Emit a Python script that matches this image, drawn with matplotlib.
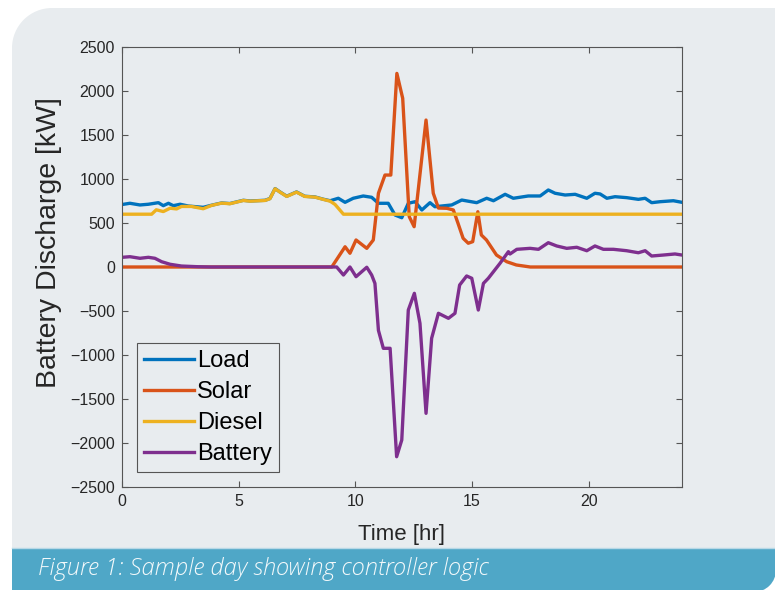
import matplotlib
matplotlib.use("Agg")
import matplotlib.pyplot as plt
from matplotlib.patches import Rectangle, Ellipse

# ---------------- data ----------------
t_load = [0, 0.34, 0.77, 1.13, 1.56, 1.77, 1.99, 2.2, 2.49, 2.84, 3.48, 3.84, 4.27, 4.62,
          5.2, 5.49, 6.13, 6.34, 6.56, 6.77, 7.06, 7.48, 7.83, 8.27, 8.63, 8.92, 9.27,
          9.56, 9.91, 10.34, 10.7, 10.99, 11.41, 11.7, 11.99, 12.27, 12.56, 12.85, 13.2,
          13.41, 14.13, 14.56, 15.2, 15.63, 15.92, 16.42, 16.77, 17.41, 17.92, 18.27,
          18.56, 18.99, 19.42, 19.92, 20.27, 20.49, 20.78, 21.13, 21.63, 22.13, 22.42,
          22.7, 23.06, 23.63, 24]
load = [710, 724, 705, 713, 731, 697, 724, 697, 713, 693, 678, 702, 728, 721,
        758, 750, 758, 778, 891, 853, 804, 853, 804, 796, 770, 753, 781,
        735, 781, 807, 792, 724, 724, 591, 560, 724, 742, 648, 731,
        685, 705, 761, 731, 781, 753, 826, 781, 807, 807, 875,
        838, 818, 826, 781, 838, 830, 781, 799, 788, 769, 781,
        731, 742, 753, 735]

t_solar = [0, 8.99, 9.56, 9.77, 10.03, 10.49, 10.77, 10.99, 11.27, 11.52, 11.78, 12.03,
           12.31, 12.52, 13.03, 13.34, 13.56, 13.92, 14.2, 14.4, 14.62, 14.84, 15.03,
           15.25, 15.4, 15.62, 16.05, 16.49, 16.9, 17.5, 24]
solar = [0, 0, 230, 156, 307, 212, 307, 838, 1045, 1045, 2200, 1917,
         572, 458, 1670, 838, 670, 667, 648, 497, 326, 270, 288,
         628, 364, 307, 136, 60, 23, 0, 0]

t_diesel = [0, 1.27, 1.47, 1.77, 2.06, 2.34, 2.55, 2.98, 3.48, 3.84, 4.27, 4.62, 5.2,
            5.49, 6.13, 6.34, 6.56, 6.77, 7.06, 7.48, 7.83, 8.27, 8.63, 8.92, 9.13,
            9.49, 24]
diesel = [600, 600, 650, 630, 668, 660, 688, 688, 662, 700, 726, 719, 756,
          748, 756, 776, 889, 851, 802, 851, 802, 794, 768, 748, 711,
          600, 600]

t_batt = [0, 0.34, 0.77, 1.13, 1.41, 1.7, 2.06, 2.55, 3.27, 3.8, 9.2, 9.49, 9.77, 10.03,
          10.49, 10.7, 10.84, 10.99, 11.2, 11.49, 11.77, 11.99, 12.27, 12.53, 12.77,
          13.03, 13.27, 13.56, 13.99, 14.27, 14.47, 14.77, 14.99, 15.27, 15.49, 15.7,
          16.2, 16.56, 16.63, 16.92, 17.49, 17.85, 18.27, 18.63, 19.06, 19.49, 19.92,
          20.27, 20.63, 21.06, 21.63, 22.13, 22.42, 22.7, 23.2, 23.7, 24]
battery = [110, 117, 99, 110, 99, 60, 31, 11, 3, 0, 0, -91, 0, -110,
           -3, -91, -186, -720, -924, -924, -2156, -1966, -489, -299, -640,
           -1663, -810, -526, -583, -526, -205, -102, -128, -489, -186, -128,
           42, 174, 148, 201, 212, 201, 276, 239, 212, 224, 185,
           239, 201, 201, 185, 162, 185, 125, 136, 148, 136]

series_names = ["Load", "Solar", "Diesel", "Battery"]
series_colors = ["#0072BD", "#D95319", "#EDB120", "#7E2F8E"]
xticks = [0, 5, 10, 15, 20]
yticks = list(range(-2500, 2501, 500))
xlabel = "Time [hr]"
ylabel = "Battery Discharge [kW]"
caption = "Figure 1: Sample day showing controller logic"

# ---------------- figure ----------------
W, H = 775, 590
fig = plt.figure(figsize=(W / 100, H / 100), dpi=100)
fig.patch.set_facecolor("white")

panel = "#e8ecef"
bar = "#4fa7c7"

def add_rect(x0, y0, x1, y1, color):
    fig.patches.append(Rectangle((x0 / W, 1 - y1 / H), (x1 - x0) / W, (y1 - y0) / H,
                                 transform=fig.transFigure, facecolor=color,
                                 edgecolor="none", zorder=-10))

# gray panel with rounded top-left corner
r = 40
add_rect(12 + r, 8, W + 5, 548, panel)
add_rect(12, 8 + r, W + 5, 548, panel)
fig.patches.append(Ellipse(((12 + r) / W, 1 - (8 + r) / H), 2 * r / W, 2 * r / H,
                           transform=fig.transFigure, facecolor=panel,
                           edgecolor="none", zorder=-10))
# caption bar with rounded bottom-right corner
r2 = 22
add_rect(12, 548, 776 - r2, 592, bar)
add_rect(12, 548, 776, 592 - r2, bar)
fig.patches.append(Ellipse(((776 - r2) / W, 1 - (592 - r2) / H), 2 * r2 / W, 2 * r2 / H,
                           transform=fig.transFigure, facecolor=bar,
                           edgecolor="none", zorder=-10))
fig.lines.append(plt.Line2D([12 / W, 1], [1 - 548 / H, 1 - 548 / H],
                            transform=fig.transFigure, color="#b8d8e6", lw=1.0, zorder=-5))

fig.text(38 / W, 1 - 569 / H, caption, family=["Open Sans", "DejaVu Sans"],
         style="italic", weight="light", fontsize=17, color="#f3f9fb",
         va="center", ha="left")

# ---------------- axes ----------------
ax_l, ax_r, ax_t, ax_b = 122, 682, 47, 487
ax = fig.add_axes([ax_l / W, 1 - ax_b / H, (ax_r - ax_l) / W, (ax_b - ax_t) / H])
ax.set_zorder(5)
ax.set_facecolor("none")

font = ["Liberation Sans", "DejaVu Sans"]
lw = 2.4
ax.plot(t_load, load, color=series_colors[0], lw=lw, label=series_names[0])
ax.plot(t_solar, solar, color=series_colors[1], lw=lw, label=series_names[1])
ax.plot(t_diesel, diesel, color=series_colors[2], lw=lw, label=series_names[2])
ax.plot(t_batt, battery, color=series_colors[3], lw=lw, label=series_names[3])

ax.set_xlim(0, 24)
ax.set_ylim(-2500, 2500)
ax.set_xticks(xticks)
ax.set_yticks(yticks)
ax.tick_params(direction="in", length=4, width=0.8, colors="#555555",
               labelcolor="#262626", labelsize=11.5, top=True, right=True, pad=5)
for lab in ax.get_xticklabels() + ax.get_yticklabels():
    lab.set_family(font)
for s in ax.spines.values():
    s.set_color("#555555")
    s.set_linewidth(0.8)

ax.set_xlabel(xlabel, family=font, fontsize=16, color="#262626", labelpad=11)
ax.set_ylabel(ylabel, family=font, fontsize=20.5, color="#262626")
ax.yaxis.set_label_coords((62 - ax_l) / (ax_r - ax_l), (ax_b - 243) / (ax_b - ax_t))

leg = ax.legend(loc="lower left", bbox_to_anchor=(0.027, 0.034), borderaxespad=0,
                prop={"family": font, "size": 17}, fancybox=False, frameon=True,
                handlelength=2.1, handletextpad=0.15, labelspacing=0.38,
                borderpad=0.3)
leg.get_frame().set_edgecolor("#555555")
leg.get_frame().set_facecolor(panel)
leg.get_frame().set_linewidth(0.8)
leg.get_frame().set_alpha(1)

fig.savefig("out.png", dpi=100, facecolor=fig.get_facecolor())
